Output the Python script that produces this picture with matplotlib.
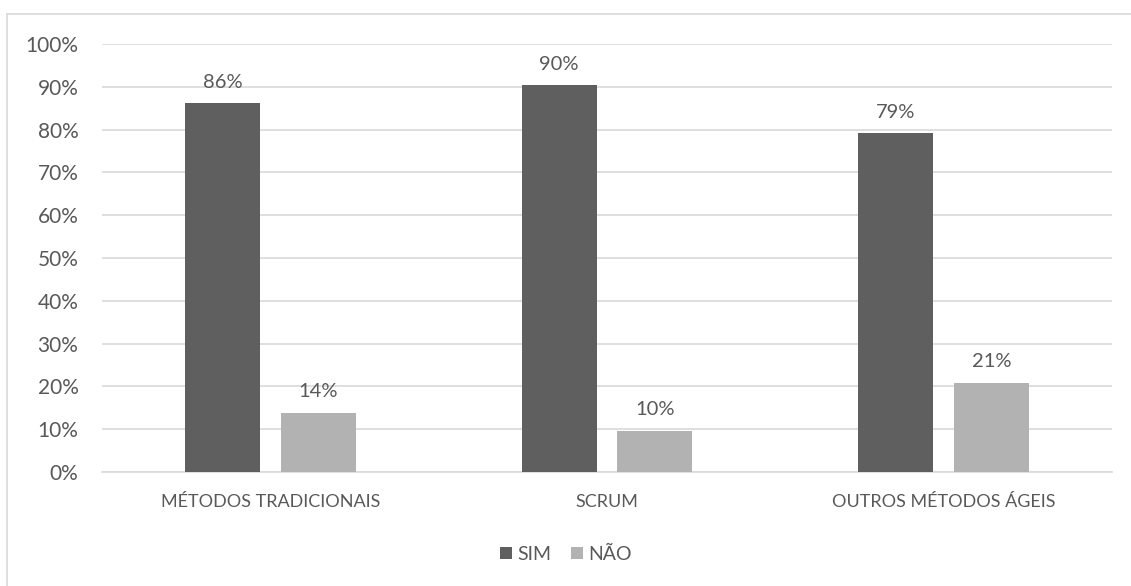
import matplotlib
matplotlib.use("Agg")
import matplotlib.pyplot as plt
from matplotlib.lines import Line2D
from matplotlib.patches import Patch
import numpy as np

categories = ["MÉTODOS TRADICIONAIS", "SCRUM", "OUTROS MÉTODOS ÁGEIS"]
sim = [86.2, 90.4, 79.1]
nao = [13.8, 9.6, 20.9]
series_names = ["SIM", "NÃO"]
yticks = list(range(0, 101, 10))

plt.rcParams['font.family'] = ['Lato', 'DejaVu Sans']
TXT = '#595959'
C_SIM = '#5F5F5F'
C_NAO = '#B2B2B2'
GRID = '#D9D9D9'

W, H = 1131, 586
fig = plt.figure(figsize=(W/100, H/100), dpi=100)
left, right, top, bottom = 102, 1112, 44, 472
ax = fig.add_axes([left/W, 1-bottom/H, (right-left)/W, (bottom-top)/H])

x = np.arange(len(categories))
bw = 0.223
off = 0.142
b1 = ax.bar(x-off, sim, bw, color=C_SIM, zorder=3)
b2 = ax.bar(x+off, nao, bw, color=C_NAO, zorder=3)
for bars, vals in ((b1, sim), (b2, nao)):
    for r, v in zip(bars, vals):
        ax.annotate(f"{v:.0f}%", (r.get_x()+r.get_width()/2, v), xytext=(0, 9),
                    textcoords='offset points', ha='center', va='bottom',
                    fontsize=14.5, color=TXT)

ax.set_xlim(-0.5, 2.5)
ax.set_ylim(0, 100)
ax.set_yticks(yticks)
ax.set_yticklabels([f"{t}%" for t in yticks], fontsize=15, color=TXT)
ax.set_xticks(x)
ax.set_xticklabels(categories, fontsize=13, color=TXT)
ax.tick_params(axis='both', length=0)
ax.tick_params(axis='y', pad=17)
ax.tick_params(axis='x', pad=16)
ax.grid(axis='y', color=GRID, linewidth=1.2, zorder=0)
for s in ('top', 'right', 'left'):
    ax.spines[s].set_visible(False)
ax.spines['bottom'].set_color(GRID)
ax.spines['bottom'].set_linewidth(1.2)

handles = [Patch(facecolor=C_SIM, label=series_names[0]),
           Patch(facecolor=C_NAO, label=series_names[1])]
fig.legend(handles=handles, loc='center', bbox_to_anchor=(566/W, 1-554/H), ncol=2,
           frameon=False, fontsize=14, labelcolor=TXT, handlelength=0.6,
           handleheight=0.6, handletextpad=0.3, columnspacing=1.0)

# outer chart border (top and left visible)
fig.add_artist(Line2D([7/W, 1], [1-14/H, 1-14/H], color='#D9D9D9', lw=1.2))
fig.add_artist(Line2D([7/W, 7/W], [0, 1-14/H], color='#D9D9D9', lw=1.2))

fig.savefig("out.png", dpi=100)
